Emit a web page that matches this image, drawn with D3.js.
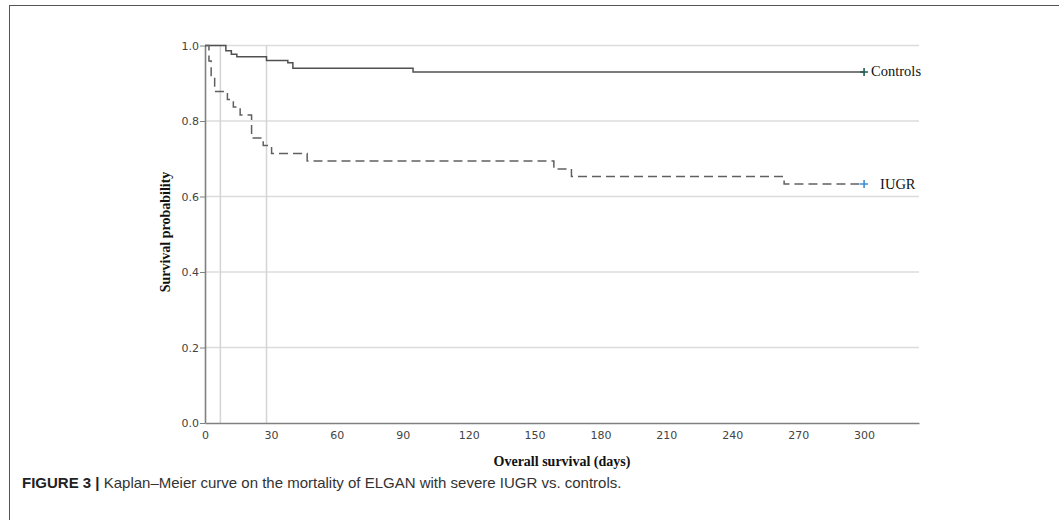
<!DOCTYPE html>
<html>
<head>
<meta charset="utf-8">
<script src="https://cdn.jsdelivr.net/npm/d3@7"></script>
<style>
  html, body { margin: 0; padding: 0; background: #fff; }
  svg { display: block; }
</style>
</head>
<body>
<div id="graph"></div>
<script>
// Kaplan-Meier steps
const controlsDays = [0, 9.5, 12, 14.5, 28, 37.7, 40, 94.7, 300];
const controlsSurv = [1, 0.986, 0.977, 0.970, 0.960, 0.954, 0.940, 0.930, 0.930];
const iugrDays = [0, 1.8, 2.8, 4.4, 10.2, 12.9, 16, 21.2, 26.5, 30.3, 46.5, 158.8, 166.8, 263.6, 300];
const iugrSurv = [1, 0.959, 0.918, 0.878, 0.857, 0.837, 0.816, 0.755, 0.735, 0.714, 0.694, 0.673, 0.653, 0.633, 0.633];
const xTicks = [0, 30, 60, 90, 120, 150, 180, 210, 240, 270, 300];
const yTicks = [0, 0.2, 0.4, 0.6, 0.8, 1.0];
const refDays = [7, 28];

const width = 1059, height = 520;
const svg = d3.select("#graph").append("svg")
    .attr("width", width)
    .attr("height", height);

// cadre de la figure
svg.append("line").attr("x1", 9).attr("x2", width).attr("y1", 5.5).attr("y2", 5.5)
    .attr("stroke", "#555").attr("stroke-width", 1);
svg.append("line").attr("x1", 9.5).attr("x2", 9.5).attr("y1", 5).attr("y2", height)
    .attr("stroke", "#555").attr("stroke-width", 1);

const x = d3.scaleLinear().domain([0, 325]).range([205, 919]);
const y = d3.scaleLinear().domain([0, 1]).range([423, 45.5]);

// grille
svg.append("g").selectAll("line")
    .data(yTicks.filter(d => d > 0))
    .join("line")
    .attr("x1", x(0)).attr("x2", x(325))
    .attr("y1", d => y(d)).attr("y2", d => y(d))
    .attr("stroke", "#dcdcdc").attr("stroke-width", 1.5);

svg.append("g").selectAll("line")
    .data(refDays)
    .join("line")
    .attr("x1", d => x(d)).attr("x2", d => x(d))
    .attr("y1", y(0)).attr("y2", y(1))
    .attr("stroke", "#d4d4d4").attr("stroke-width", 1.5);

// axes
const xAxis = svg.append("g")
    .attr("transform", `translate(0,${y(0)})`)
    .call(d3.axisBottom(x).tickValues(xTicks).tickSize(4).tickSizeOuter(0));
const yAxis = svg.append("g")
    .attr("transform", `translate(${x(0)},0)`)
    .call(d3.axisLeft(y).tickValues(yTicks).tickFormat(d3.format(".1f")).tickSize(5).tickSizeOuter(0));

[xAxis, yAxis].forEach(g => {
    g.select(".domain").attr("stroke", "#808080").attr("stroke-width", 1.6);
    g.selectAll(".tick line").attr("stroke", "#808080");
    g.selectAll(".tick text")
        .attr("fill", "#444")
        .style("font-family", "'DejaVu Sans', sans-serif")
        .style("font-size", "11px");
});
xAxis.selectAll(".tick line").attr("y2", 0);
xAxis.selectAll(".tick text").attr("dy", "0.85em");
yAxis.selectAll(".tick text").attr("x", -6);

// courbes
const line = (days, surv) => d3.line()
    .x(i => x(days[i]))
    .y(i => y(surv[i]))
    .curve(d3.curveStepAfter)(d3.range(days.length));

svg.append("path")
    .attr("d", line(controlsDays, controlsSurv))
    .attr("fill", "none").attr("stroke", "#505050").attr("stroke-width", 1.5);

svg.append("path")
    .attr("d", line(iugrDays, iugrSurv))
    .attr("fill", "none").attr("stroke", "#606060").attr("stroke-width", 1.5)
    .attr("stroke-dasharray", "9,5");

// marques de censure + étiquettes
const censor = [
    { name: "Controls", day: controlsDays[controlsDays.length - 1], surv: controlsSurv[controlsSurv.length - 1], color: "#1f5c56", dx: 7 },
    { name: "IUGR", day: iugrDays[iugrDays.length - 1], surv: iugrSurv[iugrSurv.length - 1], color: "#3a8fd8", dx: 16 }
];
const marks = svg.append("g").selectAll("g").data(censor).join("g")
    .attr("transform", d => `translate(${x(d.day)},${y(d.surv)})`);
marks.append("path")
    .attr("d", "M-4,0H4M0,-4V4")
    .attr("stroke", d => d.color).attr("stroke-width", 1.6);
marks.append("text")
    .attr("x", d => d.dx).attr("y", 4.5)
    .style("font-family", "'Liberation Serif', 'Times New Roman', serif")
    .style("font-size", "14.5px")
    .attr("fill", "#111")
    .text(d => d.name);

// titres des axes
svg.append("text")
    .attr("x", 562).attr("y", 466)
    .attr("text-anchor", "middle")
    .style("font-family", "'Liberation Serif', 'Times New Roman', serif")
    .style("font-size", "14px").style("font-weight", "bold")
    .attr("fill", "#111")
    .text("Overall survival (days)");

svg.append("text")
    .attr("transform", "translate(170,232) rotate(-90)")
    .attr("text-anchor", "middle")
    .style("font-family", "'Liberation Serif', 'Times New Roman', serif")
    .style("font-size", "14px").style("font-weight", "bold")
    .attr("fill", "#111")
    .text("Survival probability");

// légende de la figure
const cap = svg.append("text")
    .attr("x", 22).attr("y", 488)
    .style("font-family", "'Liberation Sans', Arial, sans-serif")
    .style("font-size", "15px")
    .attr("fill", "#333");
cap.append("tspan").style("font-weight", "bold").attr("fill", "#222").text("FIGURE 3 | ");
cap.append("tspan").text("Kaplan–Meier curve on the mortality of ELGAN with severe IUGR vs. controls.");
</script>
</body>
</html>
